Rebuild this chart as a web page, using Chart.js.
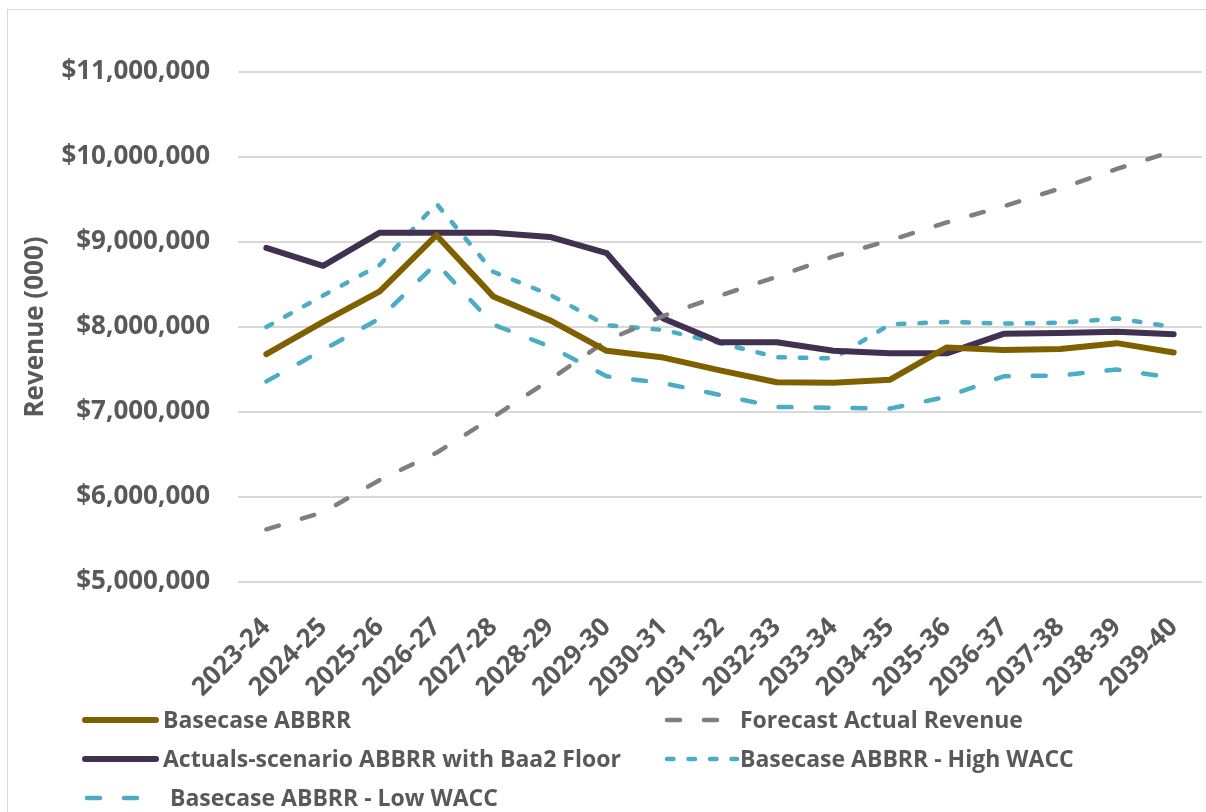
<!DOCTYPE html>
<html>
<head>
<meta charset="utf-8">
<title>Revenue scenarios</title>
<script src="https://cdn.jsdelivr.net/npm/chart.js@4/dist/chart.umd.min.js"></script>
<style>
  html, body { margin: 0; padding: 0; background: #fff; }
  #wrap { width: 1206px; height: 812px; }
</style>
</head>
<body>
<div id="wrap"><canvas id="revChart" width="1206" height="812"></canvas></div>
<script>
// financial years
const years = ["2023-24", "2024-25", "2025-26", "2026-27", "2027-28", "2028-29", "2029-30", "2030-31", "2031-32",
  "2032-33", "2033-34", "2034-35", "2035-36", "2036-37", "2037-38", "2038-39", "2039-40"];

const basecase = [7680000, 8060000, 8420000, 9080000, 8360000, 8080000, 7720000, 7640000, 7490000,
  7350000, 7345000, 7380000, 7760000, 7730000, 7740000, 7810000, 7700000];
const forecastRevenue = [5620000, 5820000, 6200000, 6520000, 6940000, 7380000, 7840000, 8130000, 8370000,
  8590000, 8830000, 9020000, 9230000, 9420000, 9630000, 9860000, 10070000];
const actualsBaa2 = [8930000, 8720000, 9110000, 9110000, 9110000, 9060000, 8870000, 8100000, 7820000,
  7820000, 7720000, 7690000, 7690000, 7920000, 7930000, 7945000, 7915000];
const highWacc = [8000000, 8370000, 8730000, 9450000, 8650000, 8380000, 8020000, 7965000, 7810000,
  7645000, 7630000, 8030000, 8060000, 8040000, 8050000, 8100000, 8000000];
const lowWacc = [7360000, 7730000, 8100000, 8750000, 8030000, 7770000, 7420000, 7340000, 7200000,
  7060000, 7050000, 7040000, 7180000, 7420000, 7430000, 7500000, 7400000];

const yTicks = [5000000, 6000000, 7000000, 8000000, 9000000, 10000000, 11000000];

const seriesNames = ["Basecase ABBRR", "Forecast Actual Revenue", "Actuals-scenario ABBRR with Baa2 Floor",
  "Basecase ABBRR - High WACC", "Basecase ABBRR - Low WACC"];

const textGrey = "#595959";
const fontFamily = "'Open Sans', 'Noto Sans', sans-serif";

function lineSet(label, data, color, width, dash) {
  return {
    label: label,
    data: data,
    borderColor: color,
    backgroundColor: color,
    borderWidth: width,
    borderDash: dash,
    borderCapStyle: "round",
    borderJoinStyle: "round",
    pointRadius: 0,
    tension: 0,
    fill: false
  };
}

// thin frame round the whole chart
const frame = {
  id: "frame",
  beforeDraw(chart) {
    const c = chart.ctx;
    c.save();
    c.strokeStyle = "#d9d9d9";
    c.lineWidth = 1;
    c.strokeRect(7.5, 9.5, 1400, 1000);
    c.restore();
  }
};

// two-column legend under the axis
const gridLegend = {
  id: "gridLegend",
  afterDraw(chart) {
    const c = chart.ctx;
    const sampleX = [85, 665];
    const textX = [163, 740];
    const rowY = [720, 759, 798];
    c.save();
    c.font = "bold 23px " + fontFamily;
    c.textBaseline = "middle";
    chart.data.datasets.forEach((ds, i) => {
      const col = i % 2, row = Math.floor(i / 2);
      const y = rowY[row];
      const dashed = ds.borderDash.length > 0;
      const x0 = sampleX[col] + (dashed ? 2 : 0);
      const x1 = dashed ? x0 + 70 : sampleX[col] + 71;
      c.strokeStyle = ds.borderColor;
      c.lineWidth = dashed ? ds.borderWidth : 6;
      c.lineCap = "round";
      c.setLineDash(ds.borderDash);
      c.beginPath();
      c.moveTo(x0, y);
      c.lineTo(x1, y);
      c.stroke();
      c.setLineDash([]);
      c.fillStyle = textGrey;
      c.fillText(ds.label, textX[col] + (dashed && col === 0 ? 7 : 0), y + 1);
    });
    c.restore();
  }
};

new Chart(document.getElementById("revChart"), {
  type: "line",
  data: {
    labels: years,
    datasets: [
      lineSet(seriesNames[0], basecase, "#7F6000", 6, []),
      lineSet(seriesNames[1], forecastRevenue, "#7F7F7F", 4.5, [13, 24]),
      lineSet(seriesNames[2], actualsBaa2, "#403151", 6, []),
      lineSet(seriesNames[3], highWacc, "#4BACC6", 4.5, [6.5, 15]),
      lineSet(seriesNames[4], lowWacc, "#4BACC6", 4.5, [13, 24])
    ]
  },
  options: {
    responsive: false,
    animation: false,
    devicePixelRatio: 1,
    layout: { padding: { top: 72, left: 0, right: 4, bottom: 100 } },
    plugins: {
      legend: { display: false },
      tooltip: { enabled: false }
    },
    scales: {
      x: {
        offset: true,
        grid: { display: false },
        border: { display: false },
        ticks: {
          color: textGrey,
          font: { family: fontFamily, size: 26, weight: "bold" },
          minRotation: 45,
          maxRotation: 45,
          autoSkip: false,
          padding: 22
        },
        afterFit(scale) {
          scale.height = 130;
          scale.paddingLeft = 0;
          scale.paddingRight = 0;
        }
      },
      y: {
        min: yTicks[0],
        max: yTicks[yTicks.length - 1],
        afterBuildTicks(scale) {
          scale.ticks = yTicks.map(v => ({ value: v }));
        },
        grid: { color: "#d9d9d9", lineWidth: 2, drawTicks: false },
        border: { display: false },
        ticks: {
          color: textGrey,
          padding: 28,
          font: { family: fontFamily, size: 26, weight: "bold" },
          callback: v => "$" + Number(v).toLocaleString("en-US")
        },
        title: {
          display: true,
          text: "Revenue (000)",
          color: textGrey,
          padding: { top: 20, bottom: 0 },
          font: { family: fontFamily, size: 26, weight: "bold" }
        },
        afterFit(scale) {
          scale.width = 238;
          scale.paddingTop = 0;
          scale.paddingBottom = 0;
        }
      }
    }
  },
  plugins: [frame, gridLegend]
});
</script>
</body>
</html>
